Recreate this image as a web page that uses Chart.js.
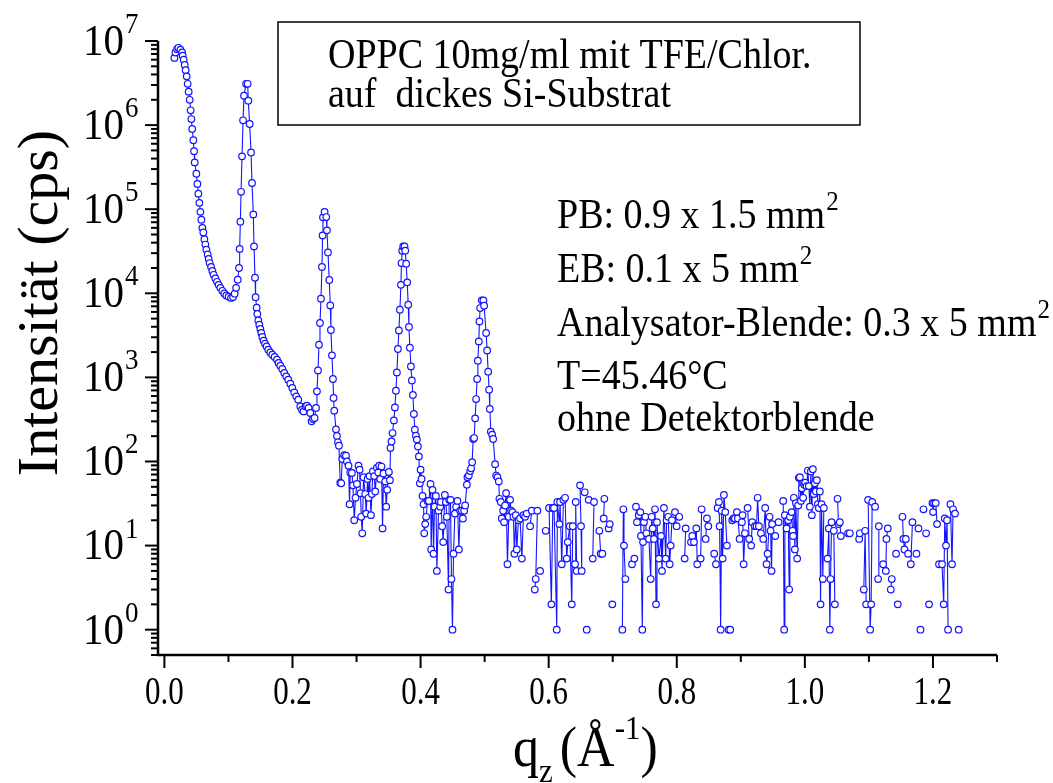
<!DOCTYPE html>
<html>
<head>
<meta charset="utf-8">
<script src="https://cdn.jsdelivr.net/npm/chart.js@4.4.1/dist/chart.umd.min.js"></script>
<style>
  html, body { margin: 0; padding: 0; background: #fff; }
  #wrap { width: 1053px; height: 783px; }
</style>
</head>
<body>
<div id="wrap"><canvas id="chart" width="1053" height="783"></canvas></div>
<script>
// q_z in 1/Angstrom, null = zero counts (no point on log axis)
const qz = [
  0.0156, 0.0172, 0.0198, 0.0218, 0.0250, 0.0276, 0.0285, 0.0301, 0.0317, 0.0332,
  0.0348, 0.0363, 0.0379, 0.0395, 0.0410, 0.0421, 0.0434, 0.0452, 0.0463, 0.0473,
  0.0499, 0.0515, 0.0530, 0.0546, 0.0562, 0.0577, 0.0593, 0.0608, 0.0624, 0.0640,
  0.0655, 0.0676, 0.0691, 0.0707, 0.0729, 0.0749, 0.0769, 0.0796, 0.0822, 0.0847,
  0.0874, 0.0905, 0.0936, 0.0967, 0.1003, 0.1041, 0.1072, 0.1097, 0.1119, 0.1145,
  0.1165, 0.1175, 0.1186, 0.1197, 0.1212, 0.1228, 0.1243, 0.1275, 0.1300, 0.1310,
  0.1331, 0.1353, 0.1368, 0.1388, 0.1399, 0.1415, 0.1424, 0.1440, 0.1451, 0.1466,
  0.1482, 0.1498, 0.1513, 0.1529, 0.1549, 0.1571, 0.1596, 0.1622, 0.1654, 0.1685,
  0.1721, 0.1758, 0.1783, 0.1810, 0.1841, 0.1872, 0.1903, 0.1934, 0.1966, 0.1997,
  0.2028, 0.2059, 0.2090, 0.2122, 0.2148, 0.2173, 0.2204, 0.2226, 0.2251, 0.2278,
  0.2298, 0.2320, 0.2345, 0.2367, 0.2382, 0.2398, 0.2414, 0.2429, 0.2445, 0.2460,
  0.2470, 0.2476, 0.2501, 0.2527, 0.2538, 0.2554, 0.2574, 0.2590, 0.2600, 0.2616,
  0.2632, 0.2641, 0.2652, 0.2679, 0.2694, 0.2710, 0.2725, 0.2746, 0.2761, 0.2777,
  0.2808, 0.2835, 0.2850, 0.2875, 0.2891, 0.2902, 0.2928, 0.2944, 0.2964, 0.2984,
  0.3006, 0.3031, 0.3047, 0.3062, 0.3073, 0.3089, 0.3109, 0.3136, 0.3151, 0.3172,
  0.3187, 0.3203, 0.3225, 0.3240, 0.3256, 0.3276, 0.3292, 0.3318, 0.3339, 0.3354,
  0.3370, 0.3390, 0.3406, 0.3421, 0.3448, 0.3463, 0.3479, 0.3505, 0.3521, 0.3530,
  0.3546, 0.3562, 0.3583, 0.3599, 0.3615, 0.3630, 0.3646, 0.3661, 0.3677, 0.3693,
  0.3702, 0.3713, 0.3729, 0.3749, 0.3760, 0.3775, 0.3791, 0.3807, 0.3818, 0.3833,
  0.3849, 0.3864, 0.3880, 0.3895, 0.3911, 0.3927, 0.3942, 0.3958, 0.3973, 0.3989,
  0.4000, 0.4015, 0.4031, 0.4046, 0.4057, 0.4072, 0.4087, 0.4108, 0.4129, 0.4155,
  0.4165, 0.4186, 0.4202, 0.4217, 0.4239, 0.4254, 0.4280, 0.4306, 0.4317, 0.4337,
  0.4353, 0.4379, 0.4395, 0.4410, 0.4436, 0.4446, 0.4467, 0.4482, 0.4498, 0.4514,
  0.4535, 0.4555, 0.4576, 0.4598, 0.4618, 0.4645, 0.4661, 0.4681, 0.4696, 0.4723,
  0.4732, 0.4753, 0.4774, 0.4789, 0.4805, 0.4821, 0.4836, 0.4852, 0.4867, 0.4883,
  0.4894, 0.4909, 0.4919, 0.4930, 0.4956, 0.4981, 0.4992, 0.5023, 0.5039, 0.5055,
  0.5070, 0.5081, 0.5097, 0.5117, 0.5133, 0.5164, 0.5180, 0.5200, 0.5221, 0.5231,
  0.5253, 0.5268, 0.5289, 0.5304, 0.5320, 0.5335, 0.5356, 0.5377, 0.5398, 0.5413,
  0.5434, 0.5449, 0.5465, 0.5486, 0.5502, 0.5528, 0.5554, 0.5581, 0.5606, 0.5632,
  0.5658, null, 0.5710, 0.5736, null, 0.5783, 0.5798, 0.5824, null, 0.5866,
  null, 0.5954, null, 0.6006, 0.6042, 0.6064, 0.6084, 0.6126, 0.6136, 0.6167,
  0.6178, 0.6204, 0.6230, 0.6256, 0.6282, 0.6298, 0.6329, 0.6360, 0.6376, null,
  0.6412, 0.6422, 0.6438, null, 0.6490, 0.6505, 0.6516, null, 0.6563, null,
  0.6594, null, 0.6625, null, 0.6688, 0.6708, null, 0.6791, 0.6812, null,
  0.6838, null, 0.6859, 0.6869, null, 0.6937, 0.6953, null, 0.6994, null,
  0.7150, 0.7166, 0.7176, 0.7197, null, 0.7301, 0.7337, null, 0.7363, 0.7379,
  0.7406, 0.7431, 0.7441, 0.7462, 0.7473, 0.7488, 0.7509, 0.7525, 0.7566, 0.7593,
  0.7608, 0.7624, 0.7644, 0.7660, 0.7676, 0.7691, 0.7722, 0.7754, 0.7769, 0.7800,
  0.7827, 0.7842, 0.7867, 0.7889, 0.7905, 0.7925, null, 0.7972, 0.7998, null,
  0.8039, null, 0.8123, 0.8139, null, 0.8222, 0.8242, 0.8268, 0.8305, 0.8320,
  null, 0.8373, 0.8388, null, 0.8451, 0.8471, 0.8492, null, 0.8585, 0.8612,
  null, 0.8638, 0.8658, 0.8669, 0.8685, 0.8701, 0.8716, 0.8736, 0.8757, 0.8783,
  null, 0.8810, null, 0.8835, null, 0.8866, 0.8888, 0.8908, 0.8939, 0.8955,
  0.8981, null, 0.9017, 0.9028, 0.9044, 0.9064, null, 0.9106, 0.9131, null,
  0.9162, 0.9178, null, 0.9220, 0.9246, 0.9262, 0.9282, 0.9314, 0.9350, 0.9381,
  0.9402, 0.9418, 0.9449, 0.9465, 0.9480, 0.9490, null, 0.9537, null, 0.9590,
  null, 0.9662, 0.9677, 0.9688, 0.9715, 0.9740, 0.9755, 0.9766, 0.9793, 0.9808,
  0.9818, 0.9828, 0.9844, 0.9860, 0.9880, 0.9896, 0.9906, 0.9922, 0.9938, 0.9953,
  0.9974, 0.9990, 1.0005, 1.0027, 1.0047, 1.0062, 1.0078, 1.0094, 1.0109, 1.0125,
  1.0140, 1.0156, 1.0172, 1.0187, 1.0203, 1.0218, 1.0234, 1.0245, 1.0260, 1.0281,
  1.0296, null, 1.0354, 1.0374, 1.0390, 1.0401, 1.0417, null, 1.0452, 1.0468,
  null, 1.0510, 1.0526, 1.0546, 1.0562, null, 1.0676, 1.0702, null, 1.0848,
  1.0858, null, 1.0920, 1.0941, 1.0957, null, 1.0988, 1.1019, 1.1035, 1.1051,
  null, 1.1097, null, 1.1144, 1.1155, null, 1.1222, null, 1.1264, 1.1274,
  1.1295, null, 1.1342, 1.1357, null, 1.1424, null, 1.1451, null, 1.1524,
  1.1539, 1.1555, 1.1576, null, 1.1612, null, 1.1654, 1.1680, null, 1.1742,
  null, 1.1774, null, 1.1805, null, 1.1852, null, 1.1893, null, 1.1939,
  null, 1.1992, 1.2002, 1.2017, 1.2044, 1.2064, null, 1.2095, null, 1.2142,
  1.2168, 1.2184, 1.2204, 1.2220, 1.2236, null, 1.2273, 1.2298, 1.2314, 1.2345,
  null, 1.2402
];

// intensity in cps
const intensity = [
  6.3e6, 7.3e6, 8.0e6, 8.3e6, 7.9e6, 7.3e6, 6.7e6, 6.0e6, 5.2e6, 4.5e6,
  3.8e6, 3.1e6, 2.5e6, 2.0e6, 1.5e6, 1.18e6, 9.0e5, 6.6e5, 4.9e5, 3.6e5,
  2.64e5, 2.0e5, 1.53e5, 1.19e5, 9.3e4, 7.5e4, 6.0e4, 5.3e4, 4.4e4, 3.8e4,
  3.3e4, 2.9e4, 2.56e4, 2.29e4, 2.06e4, 1.84e4, 1.66e4, 1.5e4, 1.37e4, 1.26e4,
  1.16e4, 1.07e4, 9970, 9440, 9120, 8800, 9030, 9890, 1.16e4, 1.45e4,
  2.0e4, 3.37e4, 7.1e4, 1.61e5, 4.25e5, 1.14e6, 2.24e6, 3.1e6, 3.1e6, 1.95e6,
  1.03e6, 4.73e5, 2.05e5, 8.67e4, 3.61e4, 1.53e4, 8990, 6745, 5675, 4763,
  4235, 3765, 3375, 3022, 2731, 2515, 2337, 2134, 1983, 1862,
  1749, 1624, 1483, 1377, 1259, 1128, 1028, 939, 842, 748,
  663, 595, 543, 452, 413, 394, 452, 461, 433, 377,
  300, 320, 329, 433, 682, 1211, 2447, 4436, 8630, 20600,
  48800, 80000, 92700, 80700, 56000, 30600, 14400, 7178, 3661, 1828,
  957, 569, 402, 241, 201, 169, 154, 56, 55, 107,
  119, 117, 100, 89, 31, 74, 73, 52, 20, 37,
  54, 89, 80, 42, 22, 14, 65, 41, 24, 62,
  37, 67, 23, 41, 76, 67, 44, 84, 74, 89,
  62, 87, 16, 72, 58, 29, 46, 75, 60, 145,
  173, 218, 308, 440, 695, 1146, 2176, 3620, 6380, 12600,
  22900, 32100, 36100, 36100, 32100, 22500, 13500, 7310, 3975, 2254,
  1352, 920, 618, 367, 239, 203, 182, 151, 115, 55,
  80, 62, 39, 31, 14, 18, 22, 34, 34, 54,
  9, 46, 8, 29, 39, 5, 26, 29, 33, 17,
  11, 40, 33, 22, 3, 35, 35, 4, 1, 8,
  24, 29, 34, 9, 26, 26, 21, 26, 30, 53,
  65, 68, 77, 83, 98, 185, 190, 326, 553, 957,
  1580, 2680, 4634, 6680, 8240, 8240, 7120, 3373, 2095, 1169,
  714, 421, 226, 208, 185, 93, 68, 65, 58, 36,
  33, 21, 26, 19, 30, 42, 6, 22, 35, 26,
  25, 22, 8, 23, 9, 20, 21, 7, 23, 22,
  24, null, 17, 26, null, 3, 4, 26, null, 5,
  null, 15, null, 28, 2, 28, 28, 1, 33, 18,
  33, 6, 35, 37, 7, 11, 17, 2, 17, null,
  6, 33, 5, null, 52, 17, 5, null, 43, null,
  1, null, 35, null, 7, 33, null, 15, 8, null,
  8, null, 21, 36, null, 16, 18, null, 2, null,
  1, 27, 10, 4, null, 6, 7, null, 29, 19,
  23, 25, 13, 1, 11, 19, 22, 14, 12, 4,
  22, 16, 12, 27, 2, 19, 7, 13, 5, 28,
  7, 20, 22, 6, 10, 20, null, 25, 17, null,
  22, null, 7, 16, null, 11, 13, 11, 16, 6,
  null, 7, 27, null, 12, 21, 17, null, 8, 6,
  null, 28, 33, 17, 1, 26, 7, 40, 25, 10,
  null, 1, null, 1, null, 20, 21, 21, 25, 21,
  12, null, 19, 23, 6, 14, null, 28, 12, null,
  10, 19, null, 17, 17, 37, 17, 14, 12, 28,
  6, 8, 22, 15, 5, 18, null, 13, null, 19,
  null, 34, 1, 23, 16, 20, 3, 22, 25, 15,
  13, 37, 9, 32, 7, 30, 64, 65, 34, 48,
  37, 53, 56, 51, 78, 51, 29, 76, 23, 81,
  41, 55, 44, 60, 31, 28, 44, 2, 31, 4,
  28, null, 7, 16, 1, 4, 19, null, 15, 2,
  null, 36, 18, 19, 13, null, 14, 14, null, 12,
  14, null, 3, 15, 2, null, 35, 1, 2, 33,
  null, 29, null, 4, 17, null, 6, null, 5, 12,
  16, null, 3, 4, null, 8, null, 2, null, 22,
  12, 9, 12, null, 8, null, 6, 19, null, 8,
  null, 16, null, 1, null, 27, null, 14, null, 2,
  null, 32, 25, 32, 32, 18, null, 6, null, 6,
  2, 21, 10, 20, 1, null, 31, 6, 27, 24,
  null, 1
];

const xMajorTicks = [0.0, 0.2, 0.4, 0.6, 0.8, 1.0, 1.2];
const xMinorTicks = [0.1, 0.3, 0.5, 0.7, 0.9, 1.1, 1.3];
const yDecades = [0, 1, 2, 3, 4, 5, 6, 7];
const boxLines = ['OPPC 10mg/ml mit TFE/Chlor.', 'auf  dickes Si-Substrat'];
const notes = [
  ['PB: 0.9 x 1.5 mm', '2'],
  ['EB: 0.1 x 5 mm', '2'],
  ['Analysator-Blende: 0.3 x 5 mm', '2'],
  ['T=45.46°C', ''],
  ['ohne Detektorblende', '']
];

const serif = '"Liberation Serif", "Times New Roman", Times, serif';
const blue = 'rgb(20,20,255)';

const points = qz.map((q, i) => ({ x: q, y: intensity[i] }));

// text drawn slightly taller than wide, like the original export
function text(ctx, s, x, y, size, opts) {
  const o = Object.assign({ sx: 1, sy: 1.1, align: 'left', base: 'alphabetic' }, opts || {});
  ctx.save();
  ctx.translate(x, y);
  ctx.scale(o.sx, o.sy);
  ctx.font = size + 'px ' + serif;
  ctx.textAlign = o.align;
  ctx.textBaseline = o.base;
  ctx.fillText(s, 0, 0);
  const w = ctx.measureText(s).width * o.sx;
  ctx.restore();
  return w;
}

const decor = {
  id: 'decor',
  afterDraw(chart) {
    const ctx = chart.ctx;
    const xs = chart.scales.x, ys = chart.scales.y;
    const area = chart.chartArea;
    ctx.save();
    ctx.strokeStyle = '#000';
    ctx.fillStyle = '#000';

    // axis lines
    ctx.lineWidth = 2.5;
    ctx.beginPath();
    ctx.moveTo(area.left, area.top);
    ctx.lineTo(area.left, area.bottom);
    ctx.lineTo(area.right, area.bottom);
    ctx.stroke();

    // y ticks (log, outward)
    ctx.lineWidth = 2;
    for (let n = -1; n <= 7; n++) {
      for (let m = 1; m <= 9; m++) {
        const v = m * Math.pow(10, n);
        if (v < ys.min * 0.999 || v > ys.max * 1.001) continue;
        const py = ys.getPixelForValue(v);
        const len = m === 1 ? 13 : 7;
        ctx.beginPath();
        ctx.moveTo(area.left - len, py);
        ctx.lineTo(area.left, py);
        ctx.stroke();
      }
    }

    // y labels 10^n
    yDecades.forEach(n => {
      const py = ys.getPixelForValue(Math.pow(10, n));
      text(ctx, '10', 124, py + 2, 41, { align: 'right', base: 'middle' });
      text(ctx, String(n), 125, py - 8, 27);
    });

    // x ticks
    xMajorTicks.forEach(v => {
      const px = xs.getPixelForValue(v);
      ctx.beginPath();
      ctx.moveTo(px, area.bottom);
      ctx.lineTo(px, area.bottom + 13);
      ctx.stroke();
      text(ctx, v.toFixed(1), px, area.bottom + 38, 36, { sx: 0.86, sy: 1.12, align: 'center', base: 'middle' });
    });
    xMinorTicks.forEach(v => {
      const px = xs.getPixelForValue(v);
      ctx.beginPath();
      ctx.moveTo(px, area.bottom);
      ctx.lineTo(px, area.bottom + 7);
      ctx.stroke();
    });

    // axis titles
    ctx.save();
    ctx.translate(57, 303);
    ctx.rotate(-Math.PI / 2);
    ctx.font = '58px ' + serif;
    ctx.textAlign = 'center';
    ctx.textBaseline = 'alphabetic';
    ctx.fillText('Intensität (cps)', 0, 0);
    ctx.restore();

    let tx = 513;
    tx += text(ctx, 'q', tx, 766, 52);
    tx += text(ctx, 'z', tx, 782, 31) + 7;
    tx += text(ctx, '(Å', tx, 766, 52);
    tx += text(ctx, '-1', tx, 739, 31);
    text(ctx, ')', tx, 766, 52);

    // label box
    ctx.lineWidth = 1.5;
    ctx.strokeRect(278, 22, 582, 103);
    text(ctx, boxLines[0], 328, 68, 38);
    text(ctx, boxLines[1], 328, 107, 38);

    // measurement notes
    const baselines = [228, 282, 336, 389, 431];
    notes.forEach((nt, i) => {
      const w = text(ctx, nt[0], 557, baselines[i], 38);
      if (nt[1]) text(ctx, nt[1], 557 + w + 1, baselines[i] - 18, 25);
    });
    ctx.restore();
  }
};

new Chart(document.getElementById('chart'), {
  type: 'scatter',
  data: {
    datasets: [{
      data: points,
      showLine: true,
      spanGaps: false,
      borderColor: blue,
      borderWidth: 1.1,
      pointRadius: 3.3,
      pointBorderWidth: 1.2,
      pointBorderColor: blue,
      pointBackgroundColor: '#fff',
      tension: 0
    }]
  },
  options: {
    responsive: false,
    animation: false,
    devicePixelRatio: 1,
    layout: { padding: { left: 0, right: 56, top: 41, bottom: 0 } },
    plugins: { legend: { display: false }, tooltip: { enabled: false } },
    scales: {
      x: {
        type: 'linear',
        min: -0.01,
        max: 1.3,
        grid: { display: false },
        border: { display: false },
        ticks: { display: false },
        afterFit: s => { s.height = 128; }
      },
      y: {
        type: 'logarithmic',
        min: 0.5,
        max: 1e7,
        grid: { display: false },
        border: { display: false },
        ticks: { display: false },
        afterFit: s => { s.width = 158; }
      }
    }
  },
  plugins: [decor]
});
</script>
</body>
</html>
